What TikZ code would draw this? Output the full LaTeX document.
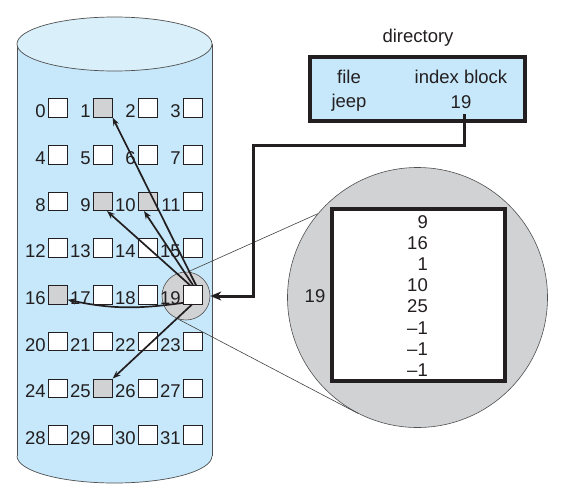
\documentclass[tikz,border=0pt]{standalone}
\usepackage{fontspec}
\setmainfont{Liberation Sans}
\usetikzlibrary{arrows.meta}
\definecolor{cylblue}{HTML}{C6E8FA}
\definecolor{cyltop}{HTML}{D9F0FB}
\definecolor{blkgray}{HTML}{D1D2D4}
\definecolor{ink}{HTML}{231F20}
\definecolor{edge}{HTML}{505050}
\tikzset{
  cylline/.style={draw=edge, line width=0.7pt},
  blk/.style={draw=ink, line width=0.8pt, fill=white, minimum size=18.5, inner sep=0pt},
  lbl/.style={anchor=base east, inner sep=0pt, text=ink},
  txt/.style={anchor=base, inner sep=0pt, text=ink},
  arr/.style={draw=ink, line width=1.7pt, -{Stealth[length=8pt,width=6pt]}},
  conn/.style={draw=ink, line width=3pt, -{Stealth[length=11pt,width=9pt]}},
  thin/.style={draw=ink!85, line width=0.6pt},
  bigbox/.style={draw=ink, line width=3.8pt, inner sep=0pt},
}
\begin{document}
\begin{tikzpicture}[x=1pt, y=-1pt, font=\fontsize{18.5}{21}\selectfont]
\useasboundingbox (0,0) rectangle (565,498);
% cylinder
\fill[cylblue] (17,44) rectangle (212,456);
\fill[cylblue] (114.5,456) ellipse[x radius=97.5, y radius=27];
\begin{scope}
  \clip (0,456) rectangle (565,498);
  \draw[cylline] (114.5,456) ellipse[x radius=97.5, y radius=27];
\end{scope}
\draw[cylline] (17,44) -- (17,456) (212,44) -- (212,456);
\draw[cylline, fill=cyltop] (114.5,44) ellipse[x radius=97.5, y radius=27];

% magnifier circles
\node[circle, draw=edge, line width=0.6pt, fill=blkgray, minimum size=48, inner sep=0pt] (hl) at (186,296) {};
\node[circle, draw=edge, line width=0.6pt, fill=blkgray, minimum size=260, inner sep=0pt] (bc) at (417.5,297.5) {};
\draw[thin] (hl.85) -- (bc.140);
\draw[thin] (hl.-110) -- (bc.-117);

% blocks
\foreach \n in {0,...,31}{
  \pgfmathtruncatemacro\cc{mod(\n,4)}
  \pgfmathtruncatemacro\rr{floor(\n/4)}
  \pgfmathtruncatemacro\isg{(\n==1)||(\n==9)||(\n==10)||(\n==16)||(\n==25)}
  \ifnum\isg=1 \def\fc{blkgray}\else\def\fc{white}\fi
  \node[blk, fill=\fc] (b\n) at ({58+45*\cc},{108+46.7*\rr}) {};
  \node[lbl] (l\n) at ([xshift=-2.5pt]b\n.south west) {\n};
}

% pointers from index block 19
\draw[arr] ([xshift=3pt]b19.north) -- (b1.south east);
\draw[arr] ([xshift=-3pt]b19.north) -- ([xshift=4pt]b9.south);
\draw[arr] (b19.north) -- ([xshift=-4pt]b10.south);
\draw[arr] ([yshift=-8pt]b19.west) to[out=188,in=-12] ([yshift=-5pt]b16.east);
\draw[arr] ([xshift=-1pt]b19.south) -- (b25.north east);

% directory
\node[txt] (dirt) at (418,42) {directory};
\node[bigbox, fill=cylblue, minimum width=215, minimum height=64] (dir) at (417.5,89) {};
\node[txt] (fh) at (349,83) {file};
\node[txt] (ibh) at (461,83) {index block};
\node[txt] (fj) at (349,107) {jeep};
\node[txt] (d19) at (461,108) {19};
\draw[conn] ([xshift=3pt,yshift=-6pt]d19.south) |- (253,145.5) |- (hl.east);

% index block contents
\node[bigbox, fill=white, minimum width=173, minimum height=172] (ib) at (418.5,295) {};
\node[txt] (ibl) at (315,302) {19};
\foreach \v [count=\i from 0] in {9,16,1,10,25,\textendash1,\textendash1,\textendash1}{
  \node[lbl] (e\i) at (428,{228+21.2*\i}) {\v};
}
\end{tikzpicture}
\end{document}
